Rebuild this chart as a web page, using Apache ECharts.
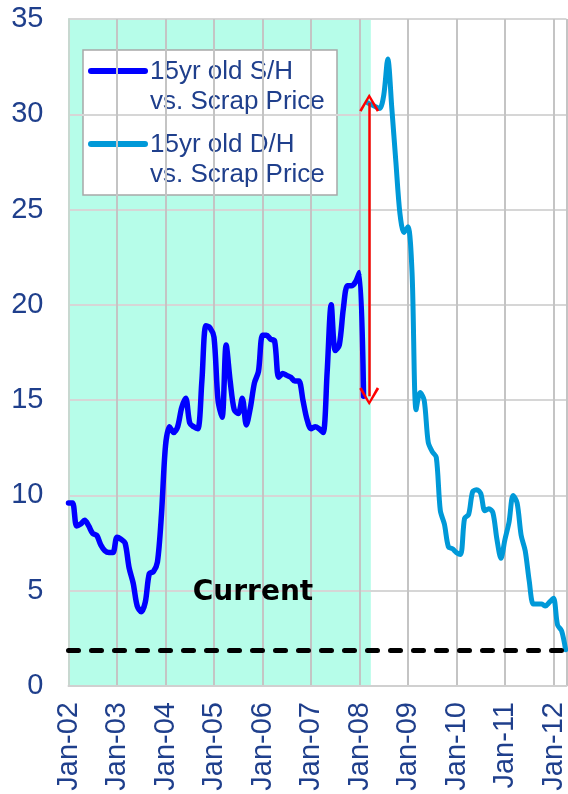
<!DOCTYPE html>
<html>
<head>
<meta charset="utf-8">
<script src="https://cdn.jsdelivr.net/npm/echarts@6/dist/echarts.min.js"></script>
<style>
  html, body { margin: 0; padding: 0; background: #fff; }
  #chart { width: 568px; height: 794px; }
</style>
</head>
<body>
<div id="chart"></div>
<script>
// x axis is months since Jan-02
const tickLabels = ['Jan-02', 'Jan-03', 'Jan-04', 'Jan-05', 'Jan-06', 'Jan-07', 'Jan-08', 'Jan-09', 'Jan-10', 'Jan-11', 'Jan-12']

// 15yr old S/H, monthly from Jan-02
const shStart = 0
const shValues = [
  9.6, 9.6, 8.4, 8.5, 8.7, 8.4, 8.0, 7.9, 7.4, 7.1, 7.0, 7.0,
  7.8, 7.7, 7.5, 6.2, 5.4, 4.2, 3.9, 4.4, 5.9, 6.0, 6.5, 9.0,
  12.6, 13.6, 13.3, 13.6, 14.6, 15.1, 13.8, 13.6, 13.5, 16.0, 18.9, 18.8,
  18.3, 15.0, 14.1, 17.9, 16.0, 14.5, 14.3, 15.1, 13.7, 14.6, 15.9, 16.5,
  18.4, 18.4, 18.2, 18.1, 16.2, 16.4, 16.3, 16.2, 16.0, 16.0, 15.0, 14.0,
  13.5, 13.6, 13.5, 13.3, 16.5, 20.0, 17.6, 17.9, 19.8, 21.0, 21.0, 21.2,
  21.7, 15.2
]

// 15yr old D/H, monthly from Mar-08
const dhStart = 74
const dhValues = [
  30.6, 30.5, 30.4, 30.3, 31.0, 32.9, 30.3, 27.5, 24.8, 23.8,
  24.1, 21.7, 14.5, 15.4, 15.0, 12.8, 12.3, 12.0, 9.2, 8.5,
  7.3, 7.2, 7.0, 6.9, 8.8, 9.0, 10.2, 10.3, 10.1, 9.2,
  9.3, 9.1, 7.7, 6.7, 7.7, 8.6, 10.0, 9.6, 7.9, 7.1,
  5.5, 4.3, 4.3, 4.3, 4.2, 4.4, 4.6, 3.2, 2.9, 1.9
]

const currentLevel = 1.85
const shadeRange = [0, 74.8]
const arrowAt = 74.4
const arrowRange = [30.6, 15.2]

const navy = '#1F3F8C'
const font = 'Liberation Sans'

const chart = echarts.init(document.getElementById('chart'))

const chevron = 'path://M0,10 L5,0 L10,10 L8.8,10.8 L5,2.6 L1.2,10.8 Z'

chart.setOption({
  animation: false,
  backgroundColor: '#fff',
  grid: { left: 68.5, right: 0, top: 19, bottom: 108 },
  xAxis: {
    type: 'value',
    min: 0,
    max: 123.2,
    interval: 12,
    z: 1,
    axisLine: { show: true, lineStyle: { color: '#d0d0d0', width: 2 } },
    axisTick: { show: false },
    splitLine: { show: true, lineStyle: { color: '#c4c4c4', width: 2 } },
    axisLabel: {
      rotate: 90,
      margin: 16,
      fontSize: 29,
      fontFamily: font,
      color: navy,
      formatter: v => (v % 12 === 0 ? tickLabels[v / 12] || '' : '')
    }
  },
  yAxis: {
    type: 'value',
    min: 0,
    max: 35,
    interval: 5,
    z: 1,
    axisLine: { show: true, lineStyle: { color: '#c8d8d0', width: 2 } },
    axisTick: { show: false },
    splitLine: { show: true, lineStyle: { color: '#d6d6d6', width: 2 } },
    axisLabel: { margin: 25, fontSize: 29, fontFamily: font, color: navy }
  },
  series: [
    {
      // holder for the shaded period
      type: 'line',
      z: 0,
      data: [],
      markArea: {
        silent: true,
        z: -1,
        itemStyle: { color: '#B6FDE9' },
        data: [[{ xAxis: shadeRange[0] }, { xAxis: shadeRange[1] }]]
      }
    },
    {
      name: '15yr old S/H vs. Scrap Price',
      type: 'line',
      z: 3,
      symbol: 'none',
      smooth: 0.3,
      lineStyle: { color: '#0000FF', width: 5.5, cap: 'round', join: 'round' },
      data: shValues.map((v, i) => [shStart + i, v])
    },
    {
      name: '15yr old D/H vs. Scrap Price',
      type: 'line',
      z: 3,
      symbol: 'none',
      smooth: 0.3,
      lineStyle: { color: '#0099D8', width: 5, cap: 'round', join: 'round' },
      data: dhValues.map((v, i) => [dhStart + i, v]),
      markLine: {
        silent: true,
        animation: false,
        symbol: 'none',
        label: { show: false },
        lineStyle: { color: '#FF0000', width: 2.5, type: 'solid' },
        data: [
          [
            { coord: [arrowAt, arrowRange[0]], symbol: chevron, symbolSize: [20, 18] },
            { coord: [arrowAt, arrowRange[1]], symbol: chevron, symbolSize: [20, 18] }
          ],
          {
            yAxis: currentLevel,
            lineStyle: { color: '#000', width: 5, type: [10, 13], cap: 'round' }
          }
        ]
      }
    }
  ],
  graphic: [
    {
      type: 'group',
      x: 83,
      y: 50,
      z: 10,
      children: [
        { type: 'rect', shape: { x: 0, y: 0, width: 254, height: 145 }, style: { fill: '#fff', stroke: '#a8a8a8', lineWidth: 1.5 } },
        { type: 'line', shape: { x1: 8, y1: 21, x2: 62, y2: 21 }, style: { stroke: '#0000FF', lineWidth: 6, lineCap: 'round' } },
        { type: 'line', shape: { x1: 8, y1: 94, x2: 62, y2: 94 }, style: { stroke: '#0099D8', lineWidth: 6, lineCap: 'round' } },
        { type: 'text', x: 67, y: 22, style: { text: '15yr old S/H', font: '26px "Liberation Sans"', fill: navy, verticalAlign: 'middle' } },
        { type: 'text', x: 67, y: 52, style: { text: 'vs. Scrap Price', font: '26px "Liberation Sans"', fill: navy, verticalAlign: 'middle' } },
        { type: 'text', x: 67, y: 95, style: { text: '15yr old D/H', font: '26px "Liberation Sans"', fill: navy, verticalAlign: 'middle' } },
        { type: 'text', x: 67, y: 125, style: { text: 'vs. Scrap Price', font: '26px "Liberation Sans"', fill: navy, verticalAlign: 'middle' } }
      ]
    },
    {
      type: 'text',
      x: 253,
      y: 593,
      z: 10,
      style: { text: 'Current', font: 'bold 28px "DejaVu Sans"', fill: '#000', align: 'center', verticalAlign: 'middle' }
    }
  ]
})
</script>
</body>
</html>
